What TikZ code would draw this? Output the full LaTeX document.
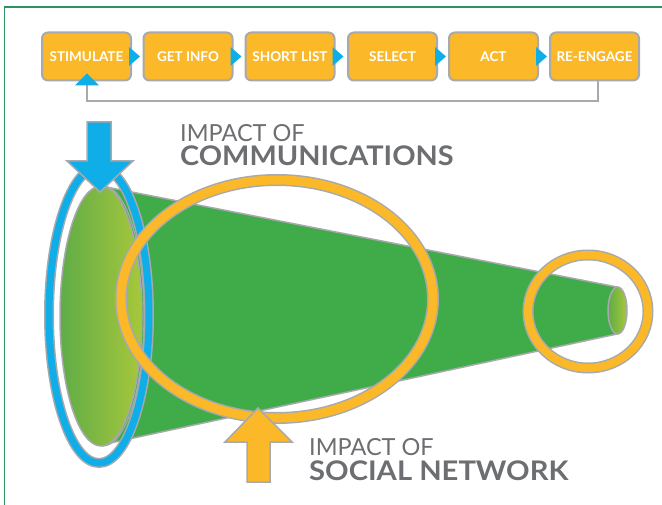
\documentclass[tikz,border=0pt]{standalone}
\usepackage{fontspec}
\setmainfont{Lato}
\usetikzlibrary{calc}
\definecolor{orF}{HTML}{FBB829}
\definecolor{blF}{HTML}{0FAEE8}
\definecolor{grF}{HTML}{40AB49}
\definecolor{edgeG}{HTML}{A7A9AC}
\definecolor{gradL}{HTML}{5FAC47}
\definecolor{gradR}{HTML}{A7C73B}
\definecolor{txtG}{HTML}{6D6E71}
\definecolor{frameG}{HTML}{2E9160}
\tikzset{
  stepbox/.style={draw=edgeG, line width=2pt, fill=orF, rounded corners=6pt,
    minimum width=89pt, minimum height=48pt, inner sep=0pt,
    text=white, font=\fontsize{13.5}{13.5}\selectfont\bfseries},
  tab/.style={fill=blF},
  outline/.style={draw=edgeG, line width=1.5pt},
  biglabel/.style={anchor=base west, inner sep=0pt, text=txtG},
}
\begin{document}
\begin{tikzpicture}[x=1pt,y=-1pt]
\useasboundingbox (0,0) rectangle (662,505);
\fill[white] (0,0) rectangle (662,505);
% frame
\draw[frameG, line width=1.2pt] (4.5,505) -- (4.5,7) -- (662,7);

% cone
\path[fill=grF, outline, line join=round] (101,186) -- (617,287) -- (617,334) -- (101,445) -- cycle;
\draw[edgeG, line width=1.2pt] (103,316) ellipse [x radius=41, y radius=130];
\shade[left color=gradL, right color=gradR, draw=edgeG, line width=1.5pt] (101,316) ellipse [x radius=41, y radius=130];
\shade[left color=gradL, right color=gradR, draw=edgeG, line width=1.5pt] (617.5,310.5) ellipse [x radius=9.5, y radius=23.5];

% blue ring
\draw[edgeG, line width=10pt] (99,315) ellipse [x radius=50, y radius=148];
\draw[blF, line width=7pt] (99,315) ellipse [x radius=50, y radius=148];

% blue arrow
\path[fill=blF, outline, line join=miter] (87,122) -- (111,122) -- (111,161) -- (133,161) -- (100,192) -- (67,161) -- (87,161) -- cycle;

% big orange ring
\draw[edgeG, line width=12pt] (277,299) ellipse [x radius=156, y radius=119];
\draw[orF, line width=9pt] (277,299) ellipse [x radius=156, y radius=119];

% small orange ring
\draw[edgeG, line width=11pt] (588,311.5) ellipse [x radius=60, y radius=56.5];
\draw[orF, line width=8pt] (588,311.5) ellipse [x radius=60, y radius=56.5];

% orange arrow
\path[fill=orF, outline, line join=miter] (247,482) -- (270,482) -- (270,442) -- (292,442) -- (258,408) -- (225,442) -- (247,442) -- cycle;

% labels
\node[biglabel, font=\fontsize{23.5}{24}\selectfont] (l1) at (180,142) {IMPACT OF};
\node[biglabel, font=\fontsize{27}{28}\selectfont\bfseries] (l2) at (180,166) {\scalebox{1.07}[1]{COMMUNICATIONS}};
\node[biglabel, font=\fontsize{23.5}{24}\selectfont] (l3) at (309,455) {IMPACT OF};
\node[biglabel, font=\fontsize{27}{28}\selectfont\bfseries] (l4) at (309,480) {\scalebox{1.08}[1]{SOCIAL NETWORK}};

% process boxes
\node[stepbox] (s1) at (86.5,56.5) {STIMULATE};
\node[stepbox] (s2) at (188,56.5) {GET INFO};
\node[stepbox] (s3) at (290,56.5) {SHORT LIST};
\node[stepbox] (s4) at (392.5,56.5) {SELECT};
\node[stepbox] (s5) at (493.5,56.5) {ACT};
\node[stepbox] (s6) at (594.5,56.5) {RE-ENGAGE};
\foreach \a in {s1,s2,s3,s4,s5}{
  \fill[blF] ($(\a.east)+(-3,-9.5)$) -- ($(\a.east)+(8,0)$) -- ($(\a.east)+(-3,9.5)$) -- cycle;
}
\coordinate (fb) at ($(s1.south)+(0.5,4)$);
\draw[edgeG, line width=2pt] ($(s6.south)+(3.5,0)$) |- (87,101.5) -- (fb);
\fill[blF] ($(fb)+(-12,0)$) -- ($(fb)+(0,-12)$) -- ($(fb)+(12,0)$) -- cycle;
\end{tikzpicture}
\end{document}
